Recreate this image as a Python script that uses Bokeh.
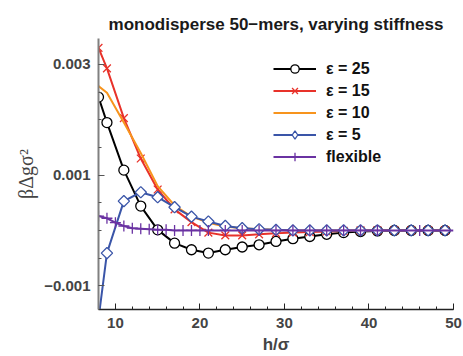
import numpy as np
from bokeh.plotting import figure
from bokeh.models import FixedTicker, Legend, LegendItem, Range1d
from bokeh.embed import file_html
from bokeh.resources import INLINE

# ---- data ----
h_main = [8, 9, 11, 13, 15, 17, 19, 21, 23, 25, 27, 29, 31, 33, 35, 37, 39, 41, 43, 45, 47, 49]
eps25 = [0.00241, 0.00195, 0.00109, 0.00044, 0.00001, -0.00023, -0.00035, -0.00041, -0.00035,
         -0.00030, -0.00026, -0.00020, -0.00015, -0.00011, -0.00007, -0.00004, -0.00002, -0.00001,
         0.0, 0.0, 0.0, 0.0]
eps15 = [0.00330, 0.00293, 0.00203, 0.00130, 0.00074, 0.00038, 0.00015, -0.00004, -0.00009,
         -0.00009, -0.00007, -0.00005, -0.00004, -0.00003, -0.00002, -0.00001, 0.0, 0.0,
         0.0, 0.0, 0.0, 0.0]
eps10 = [0.00261, 0.00249, 0.00195, 0.00140, 0.00080, 0.00045, 0.00025, 0.00014, 0.00007,
         0.00004, 0.00002, 0.00001, 0.0, 0.0, 0.0, 0.0, 0.0, 0.0, 0.0, 0.0, 0.0, 0.0]
eps5 = [-0.00160, -0.00041, 0.00053, 0.00069, 0.00060, 0.00042, 0.00025, 0.00016, 0.00008,
        0.00004, 0.00002, 0.00001, 0.0, 0.0, 0.0, 0.0, 0.0, 0.0, 0.0, 0.0, 0.0, 0.0]
h_flex = [8, 9, 10, 11, 12, 13, 14, 15, 16, 17, 18, 19, 20, 21,
          23, 25, 27, 29, 31, 33, 35, 37, 39, 41, 46, 50]
flex = [0.00026, 0.00022, 0.00014, 0.00008, 0.00004, 0.00003, 0.00002, 0.00001, 0.00001,
        0.0, 0.0, 0.0, 0.0, 0.0, 0.0, 0.0, 0.0, 0.0, 0.0, 0.0, 0.0, 0.0, 0.0, 0.0, 0.0, 0.0]

labels = ["ε = 25", "ε = 15", "ε = 10", "ε = 5", "flexible"]
x_major = [10, 20, 30, 40, 50]
x_minor = list(range(8, 51, 2))
y_major = [-0.001, 0.001, 0.003]
y_minor = [-0.0015, -0.001, -0.0005, 0.0, 0.0005, 0.001, 0.0015, 0.002, 0.0025, 0.003, 0.0035]
y_label_text = {-0.001: "−0.001", 0.001: "0.001", 0.003: "0.003"}

BLACK = "#000000"
RED = "#e8322a"
ORANGE = "#f7941d"
BLUE = "#3a55a8"
PURPLE = "#6a32a2"

p = figure(width=463, height=356, output_backend="svg", toolbar_location=None,
           x_range=Range1d(8, 50), y_range=Range1d(-0.00143, 0.00347),
           title="monodisperse 50−mers, varying stiffness")
p.min_border_left = 98
p.min_border_right = 10
p.min_border_top = 38
p.min_border_bottom = 47
p.background_fill_color = "white"
p.border_fill_color = "white"
p.outline_line_color = None
p.grid.visible = False

p.title.align = "center"
p.title.text_font = "Liberation Sans"
p.title.text_font_size = "17px"
p.title.text_font_style = "bold"
p.title.text_color = "#1a1a1a"

FONT = "Liberation Sans"

xa = p.xaxis[0]
xa.ticker = FixedTicker(ticks=x_major, minor_ticks=x_minor)
xa.axis_label = "h/σ"
xa.axis_label_text_font = FONT
xa.axis_label_text_font_style = "bold"
xa.axis_label_text_font_size = "17px"
xa.axis_label_standoff = 4
xa.major_label_text_font = FONT
xa.major_label_text_font_style = "bold"
xa.major_label_text_font_size = "15px"
xa.major_label_standoff = 8
xa.axis_line_color = "#222222"
xa.axis_line_width = 1.5
xa.major_tick_in = 6
xa.major_tick_out = 0
xa.minor_tick_in = 3
xa.minor_tick_out = 0
xa.major_tick_line_color = "#222222"
xa.minor_tick_line_color = "#222222"

ya = p.yaxis[0]
ya.ticker = FixedTicker(ticks=y_major, minor_ticks=y_minor)
ya.major_label_overrides = y_label_text
ya.axis_label = "βΔgσ²"
ya.axis_label_text_font = "Liberation Serif"
ya.axis_label_text_font_style = "normal"
ya.axis_label_text_font_size = "20px"
ya.axis_label_standoff = 4
ya.major_label_text_font = FONT
ya.major_label_text_font_style = "bold"
ya.major_label_text_font_size = "15px"
ya.major_label_standoff = 8
ya.axis_line_color = "#808080"
ya.axis_line_width = 2
ya.major_tick_in = 6
ya.major_tick_out = 0
ya.minor_tick_in = 3
ya.minor_tick_out = 0
ya.major_tick_line_color = "#555555"
ya.minor_tick_line_color = "#555555"

LW = 2

# eps = 25 (black, open circles)
l25 = p.line(h_main, eps25, line_color=BLACK, line_width=LW)
s25 = p.scatter(h_main, eps25, marker="circle", size=10, line_color=BLACK,
                fill_color="white", line_width=1.3)
# eps = 15 (red, x)
l15 = p.line(h_main, eps15, line_color=RED, line_width=LW)
s15 = p.scatter(h_main, eps15, marker="x", size=11, line_color=RED, line_width=1.3)
# eps = 10 (orange line)
l10 = p.line(h_main, eps10, line_color=ORANGE, line_width=LW)
# eps = 5 (blue diamonds)
l5 = p.line(h_main, eps5, line_color=BLUE, line_width=LW)
s5 = p.scatter(h_main, eps5, marker="square", angle=np.pi / 4, size=8, line_color=BLUE,
               fill_color="white", line_width=1.3)
# legend-only diamond key (a single NaN point, never drawn in the plot)
s5_key = p.scatter([np.nan], [np.nan], marker="diamond", size=13, line_color=BLUE,
                   fill_color="white", line_width=1.3)
# flexible (purple +)
lf = p.line(h_flex, flex, line_color=PURPLE, line_width=LW)
sf = p.scatter(h_flex[:-1], flex[:-1], marker="cross", size=11, line_color=PURPLE, line_width=1.3)

legend = Legend(items=[
    LegendItem(label=labels[0], renderers=[l25, s25]),
    LegendItem(label=labels[1], renderers=[l15, s15]),
    LegendItem(label=labels[2], renderers=[l10]),
    LegendItem(label=labels[3], renderers=[l5, s5_key]),
    LegendItem(label=labels[4], renderers=[lf, sf]),
], location=(175, 142))
legend.glyph_width = 43
legend.glyph_height = 21
legend.label_height = 21
legend.spacing = 1
legend.padding = 0
legend.margin = 0
legend.label_standoff = 10
legend.border_line_color = None
legend.background_fill_alpha = 0
legend.label_text_font = FONT
legend.label_text_font_style = "bold"
legend.label_text_font_size = "16px"
legend.label_text_color = "#111111"
p.add_layout(legend, "center")

open("out.html", "w").write(file_html(p, INLINE))
